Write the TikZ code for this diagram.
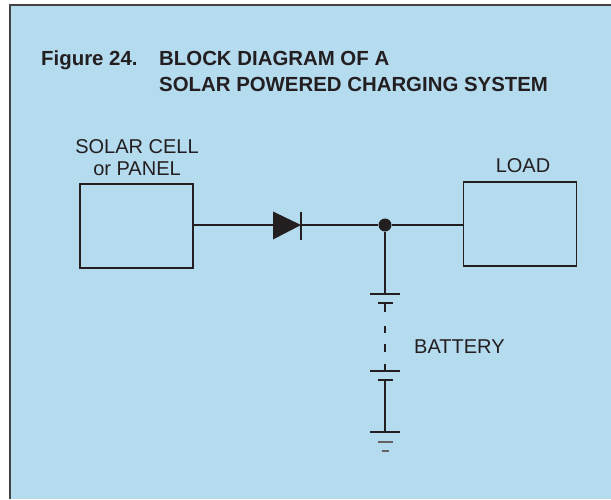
\documentclass[tikz,border=0pt]{standalone}
\usepackage{fontspec}
\setmainfont{Liberation Sans}
\definecolor{panelblue}{RGB}{181,219,239}
\definecolor{ink}{RGB}{35,31,32}
\begin{document}
\begin{tikzpicture}[x=1pt,y=-1pt,
  block/.style={draw=ink, line width=1.4pt, minimum width=113pt, minimum height=84pt, inner sep=0pt},
  wire/.style={draw=ink, line width=1.1pt},
  plate/.style={draw=ink, line width=1.3pt},
  title/.style={text=ink, inner sep=0pt, anchor=base west, font=\bfseries\fontsize{20.4}{24}\selectfont},
  lbl/.style={text=ink, inner sep=0pt, align=center, font=\fontsize{20}{21.5}\selectfont}]
\useasboundingbox (0,0) rectangle (611,499);
% panel
\fill[white] (0,0) rectangle (611,499);
\fill[panelblue] (10,5) rectangle (611,499);
\draw[ink!85, line width=2pt] (10,499) -- (10,5) -- (611,5);
% title
\node [title] (fig) at (41,65) {Figure 24.};
\node [title] (head1) at (159,65) {BLOCK DIAGRAM OF A};
\node [title] (head2) at (159,91) {SOLAR POWERED CHARGING SYSTEM};
% blocks
\node [block] (cell) at (136.5,226) {};
\node [block] (load) at (520,224) {};
\node [lbl, anchor=base] (celltxt) at (137,175) {SOLAR CELL\\or PANEL};
\node [lbl, anchor=base] (loadtxt) at (523,172) {LOAD};
% diode and junction
\coordinate (anode) at (273,225);
\coordinate (cathode) at (301,225);
\node [circle, fill=ink, minimum size=13pt, inner sep=0pt] (junc) at (385,225) {};
\draw [wire] (cell.east |- anode) -- (anode);
\fill [ink] (273,211.5) -- (cathode) -- (273,239.5) -- cycle;
\draw [plate] (301,211.5) -- (301,239.5);
\draw [wire] (cathode) -- (junc) -- (load.west |- junc);
% battery
\coordinate (cellpos) at (385,294);
\coordinate (cellneg) at (385,303);
\coordinate (lastpos) at (385,371);
\coordinate (lastneg) at (385,380);
\coordinate (gnd) at (385,432);
\draw [wire] (junc) -- (cellpos);
\draw [plate] ([xshift=-15pt]cellpos) -- ([xshift=15pt]cellpos);
\draw [plate, line width=2.2pt] ([xshift=-7.5pt]cellneg) -- ([xshift=7.5pt]cellneg);
\draw [wire, dash pattern=on 9pt off 14pt on 7pt off 11pt on 8pt off 12pt] (cellneg) -- (lastpos);
\draw [plate] ([xshift=-15pt]lastpos) -- ([xshift=15pt]lastpos);
\draw [plate, line width=2.2pt] ([xshift=-7.5pt]lastneg) -- ([xshift=7.5pt]lastneg);
\draw [wire] (lastneg) -- (gnd);
\draw [plate] ([xshift=-15pt]gnd) -- ([xshift=15pt]gnd);
\draw [plate, ink!70] (377.5,442) -- (392.5,442);
\draw [plate, ink!70] (381.5,451) -- (388.5,451);
\node [lbl, anchor=base west] (battxt) at (414,353) {BATTERY};
\end{tikzpicture}
\end{document}
